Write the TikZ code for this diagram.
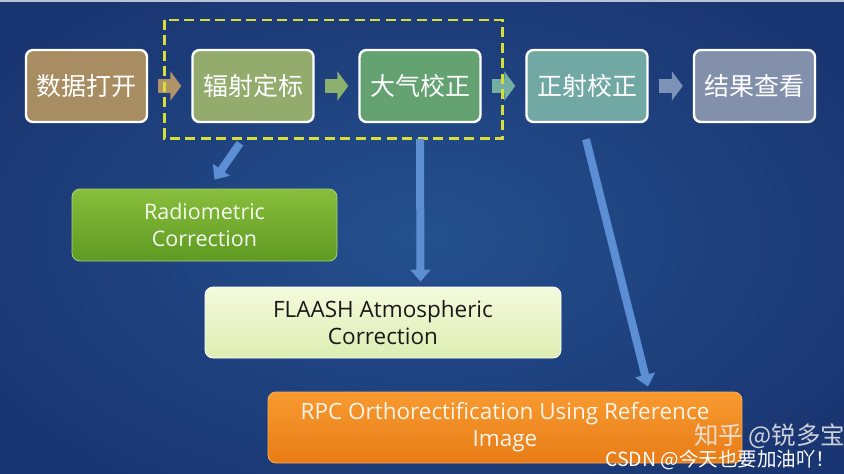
\documentclass[tikz,border=0pt]{standalone}
\usepackage{fontspec}
\setmainfont{Open Sans}
\newfontfamily\cjk{Noto Sans CJK SC}
\usetikzlibrary{arrows.meta,positioning}
\definecolor{bgin}{HTML}{24508E}
\definecolor{bgout}{HTML}{1A3672}
\definecolor{cA}{HTML}{A88C62}
\definecolor{cB}{HTML}{93AC6E}
\definecolor{cC}{HTML}{64A272}
\definecolor{cD}{HTML}{72A8A4}
\definecolor{cE}{HTML}{8290AC}
\definecolor{aA}{HTML}{B09468}
\definecolor{aB}{HTML}{8CB070}
\definecolor{aC}{HTML}{74AFA4}
\definecolor{aD}{HTML}{7C92B6}
\definecolor{dashy}{HTML}{D8DE38}
\definecolor{blu}{HTML}{5B8ED2}
\definecolor{radT}{HTML}{88BE3C}
\definecolor{radB}{HTML}{5E9A22}
\definecolor{flaT}{HTML}{F4FADC}
\definecolor{flaB}{HTML}{DDEDB2}
\definecolor{rpcT}{HTML}{F89A30}
\definecolor{rpcB}{HTML}{E87C16}
\tikzset{
  stepbox/.style={draw=white, line width=2.4pt, rounded corners=7pt,
    minimum width=121pt, minimum height=72pt, text=white,
    font=\cjk\fontsize{25}{28}\selectfont, inner sep=0pt},
  blockarrow/.style={line width=14pt, -{Triangle[width=29pt,length=11pt]}},
  bluearrow/.style={draw=blu, line width=8pt, -{Triangle[width=20pt,length=12pt]}},
  detailbox/.style={rounded corners=8pt, inner sep=0pt, align=center,
    font=\fontsize{22.5}{27}\selectfont}
}
\begin{document}
\begin{tikzpicture}[x=1pt,y=-1pt]
\useasboundingbox (0,0) rectangle (844,474);
\begin{scope}
\clip (0,0) rectangle (844,474);
\fill[bgout] (0,0) rectangle (844,474);
\shade[inner color=bgin, outer color=bgout] (-80,-60) rectangle (924,534);
\fill[white!70!bgout] (0,0) rectangle (844,2);

% top step boxes
\node[stepbox, fill=cA] (b1) at (86.5,86) {数据打开};
\node[stepbox, fill=cB] (b2) at (253,86) {辐射定标};
\node[stepbox, fill=cC] (b3) at (420,86) {大气校正};
\node[stepbox, fill=cD] (b4) at (587,86) {正射校正};
\node[stepbox, fill=cE] (b5) at (754.5,86) {结果查看};

% block arrows between steps
\draw[blockarrow, aA] ([xshift=10pt]b1.east) -- ([xshift=-10pt]b2.west);
\draw[blockarrow, aB] ([xshift=10pt]b2.east) -- ([xshift=-10pt]b3.west);
\draw[blockarrow, aC] ([xshift=10pt]b3.east) -- ([xshift=-10pt]b4.west);
\draw[blockarrow, aD] ([xshift=10pt]b4.east) -- ([xshift=-10pt]b5.west);

% dashed highlight
\draw[dashy, line width=2.6pt, dash pattern=on 10pt off 5.5pt]
  ([xshift=-27pt,yshift=29pt]b2.north west) rectangle ([xshift=21pt,yshift=-15pt]b3.south east);

% detail boxes
\node[detailbox, top color=radT, bottom color=radB, draw=radT!70!white, line width=0.8pt,
  minimum width=265pt, minimum height=72pt, text=white!92!radT,
  font=\fontsize{21.5}{27}\selectfont] (rad) at (204.5,225)
  {Radiometric\\Correction};
\node[detailbox, top color=flaT, bottom color=flaB, draw=white, line width=0.8pt,
  minimum width=356pt, minimum height=71pt, text=black!90] (fla) at (383,322.5)
  {FLAASH Atmospheric\\Correction};
\node[detailbox, top color=rpcT, bottom color=rpcB, draw=rpcT!80!white, line width=0.8pt,
  minimum width=474pt, minimum height=71pt, text=white!90!rpcT] (rpc) at (505,427.5)
  {RPC Orthorectification Using Reference\\Image};

% blue connectors
\draw[bluearrow] ([xshift=-13pt,yshift=-20pt]b2.south) -- ([xshift=10pt,yshift=9pt]rad.north);
\draw[bluearrow] ([yshift=-16pt]b3.south) -- ([xshift=37.5pt,yshift=5pt]fla.north);
\draw[bluearrow] ([xshift=-1pt,yshift=-16pt]b4.south) -- ([xshift=143pt,yshift=5pt]rpc.north);

% watermarks
\node[anchor=west, inner sep=0pt, text=white!85!gray, opacity=0.85,
  font=\cjk\fontsize{24.5}{28}\selectfont] (wm1) at (694,436) {知乎 @锐多宝};
\node[anchor=west, inner sep=0pt, text=white,
  font=\cjk\fontsize{19.5}{22}\selectfont] (wm2) at (605,460) {CSDN @今天也要加油吖！};
\end{scope}
\end{tikzpicture}
\end{document}
